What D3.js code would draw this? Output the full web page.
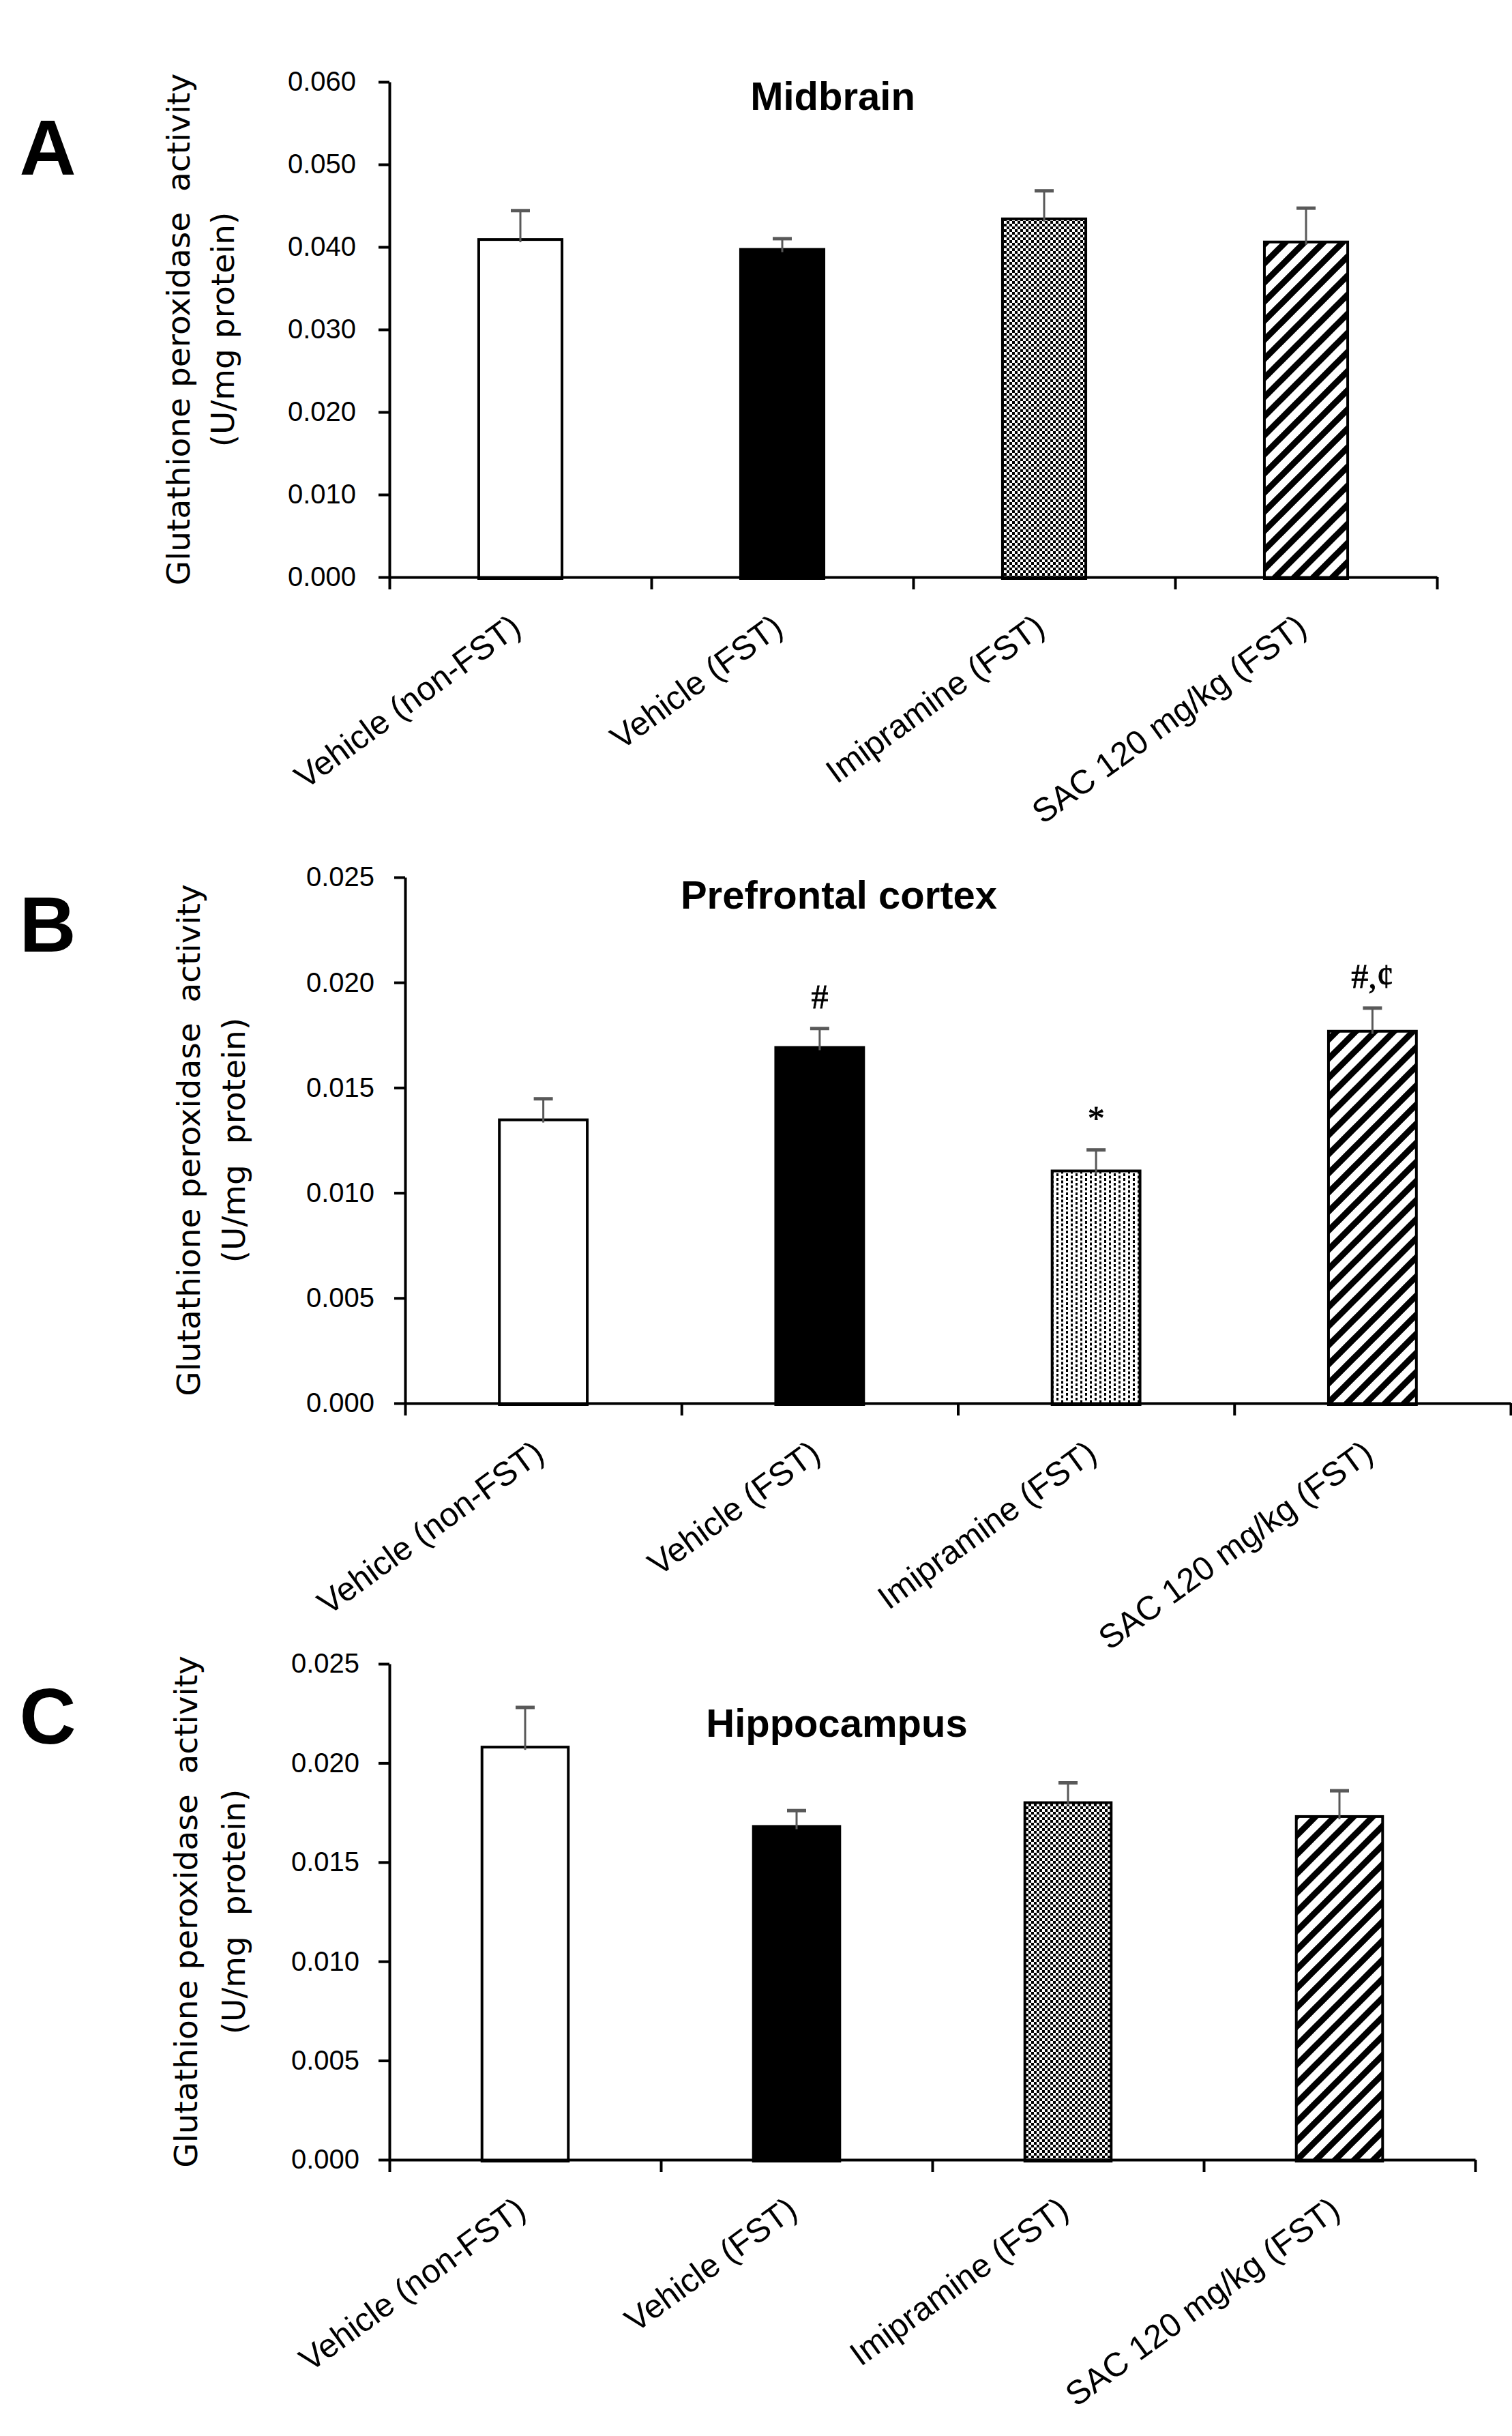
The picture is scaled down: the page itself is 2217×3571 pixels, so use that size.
<!DOCTYPE html>
<html>
<head>
<meta charset="utf-8">
<script src="https://cdn.jsdelivr.net/npm/d3@7"></script>
<style>
  body { margin: 0; background: #fff; }
  text { white-space: pre; }
</style>
</head>
<body>
<div id="chart"></div>
<script>
// groups on the x axis (same in all three panels)
const categories = ["Vehicle (non-FST)", "Vehicle (FST)", "Imipramine (FST)", "SAC 120 mg/kg (FST)"]

// A - midbrain, mean and SEM (U/mg protein)
const midbrainMean = [0.0409, 0.0397, 0.0434, 0.0406]
const midbrainSE = [0.0035, 0.0013, 0.0034, 0.0041]
const midbrainTicks = [0, 0.010, 0.020, 0.030, 0.040, 0.050, 0.060]

// B - prefrontal cortex
const prefrontalMean = [0.01347, 0.01691, 0.01104, 0.01768]
const prefrontalSE = [0.0010, 0.0009, 0.0010, 0.0011]
const prefrontalSig = ["", "#", "*", "#,\u00a2"]

// C - hippocampus
const hippocampusMean = [0.0208, 0.0168, 0.0180, 0.0173]
const hippocampusSE = [0.0020, 0.0008, 0.0010, 0.0013]

const smallTicks = [0, 0.005, 0.010, 0.015, 0.020, 0.025]

const width = 2217
const height = 3571

const svg = d3.select("#chart").append("svg")
  .attr("width", width)
  .attr("height", height)
  .attr("viewBox", [0, 0, width, height])
  .style("background", "#fff")

// fill patterns
const defs = svg.append("defs")

const checker = defs.append("pattern").attr("id", "checker")
  .attr("patternUnits", "userSpaceOnUse").attr("width", 8).attr("height", 8)
checker.append("rect").attr("width", 8).attr("height", 8).attr("fill", "#fff")
checker.append("rect").attr("width", 4).attr("height", 4).attr("fill", "#000")
checker.append("rect").attr("x", 4).attr("y", 4).attr("width", 4).attr("height", 4).attr("fill", "#000")

const dots = defs.append("pattern").attr("id", "dots")
  .attr("patternUnits", "userSpaceOnUse").attr("width", 14).attr("height", 7)
dots.append("rect").attr("width", 14).attr("height", 7).attr("fill", "#fff")
dots.append("rect").attr("x", 2).attr("y", 1.5).attr("width", 3).attr("height", 4).attr("fill", "#000")
dots.append("rect").attr("x", 9).attr("y", 5).attr("width", 3).attr("height", 4).attr("fill", "#000")
dots.append("rect").attr("x", 9).attr("y", -2).attr("width", 3).attr("height", 4).attr("fill", "#000")

const hatch = defs.append("pattern").attr("id", "hatch")
  .attr("patternUnits", "userSpaceOnUse").attr("width", 28).attr("height", 28)
hatch.append("rect").attr("width", 28).attr("height", 28).attr("fill", "#fff")
hatch.append("path")
  .attr("d", "M-7,7 L7,-7 M0,28 L28,0 M21,35 L35,21")
  .attr("stroke", "#000").attr("stroke-width", 9)

// one object per panel, layout only, data comes from the arrays above
const panels = [
  { letter: "A", title: "Midbrain", mean: midbrainMean, se: midbrainSE, ticks: midbrainTicks, sig: null,
    left: 571, right: 2107, top: 120, bottom: 846, titleX: 1221, titleY: 161, letterY: 256,
    yl1: 278, yl2: 343, unit: "(U/mg protein)", labelGap: 33,
    fills: ["#fff", "#000", "url(#checker)", "url(#hatch)"] },
  { letter: "B", title: "Prefrontal cortex", mean: prefrontalMean, se: prefrontalSE, ticks: smallTicks, sig: prefrontalSig,
    left: 594, right: 2215, top: 1286, bottom: 2057, titleX: 1230, titleY: 1332, letterY: 1395,
    yl1: 293, yl2: 359, unit: "(U/mg  protein)", labelGap: 29,
    fills: ["#fff", "#000", "url(#dots)", "url(#hatch)"] },
  { letter: "C", title: "Hippocampus", mean: hippocampusMean, se: hippocampusSE, ticks: smallTicks, sig: null,
    left: 571, right: 2163, top: 2439, bottom: 3166, titleX: 1227, titleY: 2546, letterY: 2556,
    yl1: 289, yl2: 359, unit: "(U/mg  protein)", labelGap: 28,
    fills: ["#fff", "#000", "url(#checker)", "url(#hatch)"] }
]

panels.forEach(p => {
  const g = svg.append("g")

  const x = d3.scaleBand()
    .domain(categories)
    .range([p.left, p.right])
    .paddingInner(0.682)
    .paddingOuter(0.341)

  // boundaries between groups, used for the x tick marks
  const xEdge = d3.scaleLinear().domain([0, categories.length]).range([p.left, p.right])

  const y = d3.scaleLinear()
    .domain([0, d3.max(p.ticks)])
    .range([p.bottom, p.top])

  const rows = categories.map((c, i) => ({ cat: c, mean: p.mean[i], se: p.se[i], sig: p.sig ? p.sig[i] : "", fill: p.fills[i] }))

  // bars
  g.append("g")
    .selectAll("rect")
    .data(rows)
    .join("rect")
    .attr("x", d => x(d.cat))
    .attr("y", d => y(d.mean))
    .attr("width", x.bandwidth())
    .attr("height", d => y(0) - y(d.mean) + 2)
    .attr("fill", d => d.fill)
    .attr("stroke", "#000")
    .attr("stroke-width", 4)

  // error bars, upper side only
  const err = g.append("g").attr("stroke", "#595959")
  err.selectAll("line.v")
    .data(rows)
    .join("line")
    .attr("class", "v")
    .attr("x1", d => x(d.cat) + x.bandwidth() / 2)
    .attr("x2", d => x(d.cat) + x.bandwidth() / 2)
    .attr("y1", d => y(d.mean) + 4)
    .attr("y2", d => y(d.mean + d.se))
    .attr("stroke-width", 3)
  err.selectAll("line.cap")
    .data(rows)
    .join("line")
    .attr("class", "cap")
    .attr("x1", d => x(d.cat) + x.bandwidth() / 2 - 14)
    .attr("x2", d => x(d.cat) + x.bandwidth() / 2 + 14)
    .attr("y1", d => y(d.mean + d.se))
    .attr("y2", d => y(d.mean + d.se))
    .attr("stroke-width", 5)

  // significance marks
  g.append("g")
    .selectAll("text")
    .data(rows.filter(d => d.sig))
    .join("text")
    .attr("x", d => x(d.cat) + x.bandwidth() / 2)
    .attr("y", d => y(d.mean + d.se) - 30)
    .attr("text-anchor", "middle")
    .attr("font-family", "'Liberation Serif', 'Times New Roman', serif")
    .attr("font-size", 50)
    .attr("stroke", "#000")
    .attr("stroke-width", 0.8)
    .text(d => d.sig)

  // y axis
  const yAxis = g.append("g")
    .attr("transform", `translate(${p.left},0)`)
    .call(d3.axisLeft(y).tickValues(p.ticks).tickFormat(d3.format(".3f")).tickSize(16).tickSizeOuter(0).tickPadding(p.labelGap))
  yAxis.selectAll("path, line").attr("stroke", "#000").attr("stroke-width", 4)
  yAxis.selectAll("text")
    .attr("font-family", "'Liberation Sans', Arial, sans-serif")
    .attr("font-size", 40)
    .attr("fill", "#000")

  // x axis line and group boundary ticks
  const xAxis = g.append("g")
    .attr("transform", `translate(0,${p.bottom})`)
    .call(d3.axisBottom(xEdge).tickValues(d3.range(categories.length + 1)).tickFormat("").tickSize(18).tickSizeOuter(0))
  xAxis.selectAll("path, line").attr("stroke", "#000").attr("stroke-width", 4)

  // rotated group names
  const xLabels = g.append("g")
    .attr("transform", `translate(0,${p.bottom})`)
    .call(d3.axisBottom(x).tickSize(0))
  xLabels.select(".domain").remove()
  xLabels.selectAll("text")
    .attr("x", 0).attr("y", 0).attr("dy", 0)
    .attr("transform", "translate(4,80) rotate(-36)")
    .attr("text-anchor", "end")
    .attr("font-family", "'Liberation Sans', Arial, sans-serif")
    .attr("font-size", 49)
    .attr("fill", "#000")

  // y axis title, two lines
  const midY = (p.top + p.bottom) / 2
  g.append("text")
    .attr("transform", `translate(${p.yl1},${midY}) rotate(-90)`)
    .attr("text-anchor", "middle")
    .attr("font-family", "'DejaVu Sans', Verdana, sans-serif")
    .attr("font-size", 47)
    .text("Glutathione peroxidase  activity")
  g.append("text")
    .attr("transform", `translate(${p.yl2},${midY}) rotate(-90)`)
    .attr("text-anchor", "middle")
    .attr("font-family", "'DejaVu Sans', Verdana, sans-serif")
    .attr("font-size", 47)
    .text(p.unit)

  // panel title and letter
  g.append("text")
    .attr("x", p.titleX)
    .attr("y", p.titleY)
    .attr("text-anchor", "middle")
    .attr("font-family", "'Liberation Sans', Arial, sans-serif")
    .attr("font-weight", "bold")
    .attr("font-size", 58)
    .text(p.title)

  g.append("text")
    .attr("x", 70)
    .attr("y", p.letterY)
    .attr("text-anchor", "middle")
    .attr("font-family", "'Liberation Sans', Arial, sans-serif")
    .attr("font-weight", "bold")
    .attr("font-size", 115)
    .text(p.letter)
})
</script>
</body>
</html>
